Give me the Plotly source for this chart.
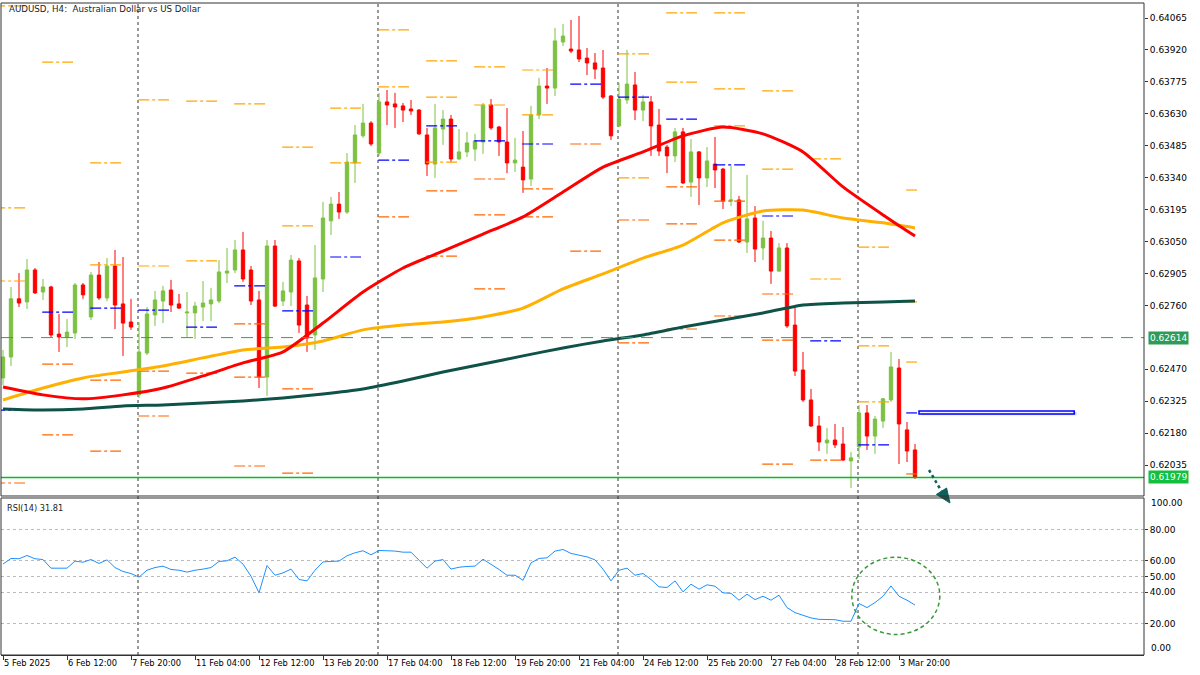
import plotly.graph_objects as go

TITLE = "AUDUSD, H4:  Australian Dollar vs US Dollar"
RSI_LABEL = "RSI(14) 31.81"

opens = [0.62431, 0.62526, 0.62790, 0.62776, 0.62921, 0.62821, 0.62844, 0.62630, 0.62617, 0.62635,
         0.62853, 0.62708, 0.62898, 0.62794, 0.62939, 0.62767, 0.62685, 0.62354, 0.62544, 0.62717,
         0.62780, 0.62830, 0.62767, 0.62726, 0.62726, 0.62753, 0.62767, 0.62780, 0.62907, 0.62921,
         0.63012, 0.62921, 0.62785, 0.62435, 0.63030, 0.62780, 0.62821, 0.62962, 0.62762, 0.62626,
         0.62880, 0.63144, 0.63220, 0.63184, 0.63407, 0.63530, 0.63588, 0.63452, 0.63684, 0.63675,
         0.63666, 0.63652, 0.63647, 0.63534, 0.63402, 0.63561, 0.63606, 0.63425, 0.63457, 0.63470,
         0.63502, 0.63670, 0.63570, 0.63502, 0.63407, 0.63388, 0.63334, 0.63625, 0.63756, 0.63747,
         0.63956, 0.63924, 0.63920, 0.63883, 0.63861, 0.63838, 0.63711, 0.63575, 0.63693, 0.63761,
         0.63647, 0.63684, 0.63579, 0.63479, 0.63439, 0.63548, 0.63320, 0.63457, 0.63339, 0.63402,
         0.63379, 0.63234, 0.63239, 0.63048, 0.63157, 0.63021, 0.63066, 0.62916, 0.63021, 0.62671,
         0.62467, 0.62331, 0.62213, 0.62136, 0.62149, 0.62131, 0.62054, 0.62118, 0.62272, 0.62167,
         0.62235, 0.62331, 0.62476, 0.62195, 0.62104]
highs = [0.62558, 0.62844, 0.62907, 0.62971, 0.62930, 0.62880, 0.62849, 0.62721, 0.62698, 0.62862,
         0.62862, 0.62912, 0.62957, 0.62975, 0.63012, 0.62980, 0.62790, 0.62685, 0.62753, 0.62826,
         0.62849, 0.62876, 0.62812, 0.62821, 0.62776, 0.62871, 0.62840, 0.62966, 0.63021, 0.63057,
         0.63094, 0.62939, 0.62826, 0.63057, 0.63057, 0.62867, 0.62989, 0.62975, 0.62803, 0.63034,
         0.63230, 0.63253, 0.63275, 0.63452, 0.63579, 0.63675, 0.63597, 0.63725, 0.63738, 0.63725,
         0.63679, 0.63693, 0.63652, 0.63566, 0.63675, 0.63647, 0.63625, 0.63561, 0.63548, 0.63539,
         0.63679, 0.63697, 0.63575, 0.63656, 0.63521, 0.63552, 0.63666, 0.63793, 0.63838, 0.64020,
         0.64038, 0.64056, 0.64074, 0.63929, 0.63906, 0.63920, 0.63715, 0.63770, 0.63920, 0.63820,
         0.63715, 0.63711, 0.63652, 0.63489, 0.63566, 0.63566, 0.63516, 0.63461, 0.63479, 0.63525,
         0.63384, 0.63393, 0.63257, 0.63352, 0.63211, 0.63144, 0.63098, 0.63043, 0.63043, 0.62753,
         0.62549, 0.62381, 0.62258, 0.62204, 0.62222, 0.62208, 0.62095, 0.62308, 0.62308, 0.62258,
         0.62340, 0.62549, 0.62517, 0.62231, 0.62131]
lows = [0.62399, 0.62485, 0.62753, 0.62744, 0.62812, 0.62785, 0.62617, 0.62549, 0.62571, 0.62608,
        0.62790, 0.62694, 0.62785, 0.62780, 0.62653, 0.62531, 0.62649, 0.62340, 0.62535, 0.62667,
        0.62680, 0.62730, 0.62744, 0.62617, 0.62608, 0.62689, 0.62689, 0.62771, 0.62862, 0.62907,
        0.62867, 0.62762, 0.62385, 0.62349, 0.62753, 0.62757, 0.62757, 0.62635, 0.62549, 0.62558,
        0.62821, 0.63080, 0.63153, 0.63175, 0.63316, 0.63521, 0.63484, 0.63439, 0.63579, 0.63566,
        0.63593, 0.63625, 0.63534, 0.63348, 0.63339, 0.63489, 0.63411, 0.63420, 0.63434, 0.63416,
        0.63448, 0.63557, 0.63439, 0.63361, 0.63366, 0.63271, 0.63302, 0.63606, 0.63675, 0.63711,
        0.63938, 0.63906, 0.63865, 0.63806, 0.63788, 0.63697, 0.63511, 0.63570, 0.63675, 0.63602,
        0.63597, 0.63439, 0.63439, 0.63361, 0.63411, 0.63311, 0.63253, 0.63216, 0.63298, 0.63293,
        0.63198, 0.63211, 0.63043, 0.62998, 0.62957, 0.62966, 0.62858, 0.62912, 0.62658, 0.62440,
        0.62322, 0.62208, 0.62099, 0.62086, 0.62113, 0.62054, 0.61931, 0.62063, 0.62104, 0.62086,
        0.62204, 0.62322, 0.62040, 0.62049, 0.61972]
closes = [0.62526, 0.62790, 0.62771, 0.62921, 0.62817, 0.62844, 0.62626, 0.62617, 0.62639, 0.62853,
          0.62808, 0.62898, 0.62794, 0.62939, 0.62762, 0.62680, 0.62662, 0.62549, 0.62721, 0.62785,
          0.62826, 0.62762, 0.62748, 0.62730, 0.62757, 0.62771, 0.62785, 0.62912, 0.62916, 0.63012,
          0.62880, 0.62780, 0.62435, 0.63030, 0.62757, 0.62826, 0.62966, 0.62671, 0.62612, 0.62885,
          0.63157, 0.63220, 0.63184, 0.63411, 0.63534, 0.63588, 0.63493, 0.63684, 0.63670, 0.63661,
          0.63647, 0.63643, 0.63539, 0.63402, 0.63566, 0.63606, 0.63425, 0.63457, 0.63498, 0.63507,
          0.63670, 0.63566, 0.63502, 0.63407, 0.63420, 0.63330, 0.63625, 0.63756, 0.63747, 0.63961,
          0.63983, 0.63915, 0.63879, 0.63861, 0.63833, 0.63706, 0.63530, 0.63697, 0.63765, 0.63647,
          0.63684, 0.63575, 0.63461, 0.63439, 0.63548, 0.63316, 0.63457, 0.63339, 0.63416, 0.63375,
          0.63234, 0.63239, 0.63048, 0.63153, 0.63016, 0.63066, 0.62916, 0.63021, 0.62667, 0.62462,
          0.62331, 0.62213, 0.62140, 0.62149, 0.62127, 0.62058, 0.62068, 0.62272, 0.62167, 0.62244,
          0.62336, 0.62481, 0.62222, 0.62099, 0.61979]

# moving averages read at every 5th bar
ma_bars = [0, 5, 10, 15, 20, 25, 30, 35, 40, 45, 50, 55, 60, 65, 70, 75, 80, 85, 90, 95, 100, 105, 110, 114]
ma_red = [0.62390, 0.62354, 0.62336, 0.62354, 0.62385, 0.62440, 0.62499, 0.62549, 0.62680, 0.62821,
          0.62930, 0.63007, 0.63084, 0.63162, 0.63275, 0.63388, 0.63457, 0.63530, 0.63570, 0.63539,
          0.63457, 0.63298, 0.63171, 0.63075]
ma_orange = [0.62331, 0.62385, 0.62431, 0.62458, 0.62485, 0.62522, 0.62558, 0.62571, 0.62599, 0.62649,
             0.62671, 0.62685, 0.62708, 0.62748, 0.62835, 0.62903, 0.62975, 0.63034, 0.63135, 0.63189,
             0.63193, 0.63157, 0.63135, 0.63112]
ma_green = [0.62290, 0.62285, 0.62290, 0.62304, 0.62308, 0.62317, 0.62326, 0.62340, 0.62358, 0.62381,
            0.62417, 0.62458, 0.62494, 0.62531, 0.62567, 0.62599, 0.62626, 0.62662, 0.62694, 0.62726,
            0.62762, 0.62771, 0.62776, 0.62780]

rsi = [57.9, 61.5, 61.3, 63.4, 61.3, 60.8, 55.3, 55.1, 55.3, 59.8,
       59.1, 60.8, 58.3, 60.6, 55.7, 53.2, 51.9, 49.6, 54.0, 55.7,
       56.6, 54.5, 54.0, 52.8, 54.0, 54.7, 55.7, 59.6, 60.0, 62.3,
       57.9, 50.2, 39.6, 57.0, 50.8, 52.3, 54.7, 48.1, 47.2, 54.0,
       59.3, 59.6, 59.8, 63.2, 65.1, 66.4, 63.8, 66.6, 66.6, 66.2,
       65.5, 65.5, 60.4, 55.3, 59.8, 60.8, 54.7, 55.9, 56.4, 56.6,
       61.0, 57.9, 54.5, 50.8, 50.8, 47.6, 58.7, 61.5, 61.9, 66.2,
       67.2, 64.7, 63.4, 62.5, 60.6, 54.7, 47.2, 54.0, 55.3, 50.8,
       51.9, 48.1, 43.4, 43.0, 47.2, 40.2, 45.1, 41.9, 44.7, 43.8,
       39.6, 39.3, 34.9, 38.7, 35.3, 37.4, 34.9, 38.1, 30.2, 27.0,
       25.3, 23.6, 22.7, 22.7, 22.5, 21.5, 21.5, 32.8, 30.2, 33.4,
       37.4, 44.0, 37.4, 34.9, 31.81]

x_tick_bars = [0, 8, 16, 24, 32, 40, 48, 56, 64, 72, 80, 88, 96, 104, 112]
x_tick_labels = ["5 Feb 2025", "6 Feb 12:00", "7 Feb 20:00", "11 Feb 04:00", "12 Feb 12:00",
                 "13 Feb 20:00", "17 Feb 04:00", "18 Feb 12:00", "19 Feb 20:00", "21 Feb 04:00",
                 "24 Feb 12:00", "25 Feb 20:00", "27 Feb 04:00", "28 Feb 12:00", "3 Mar 20:00"]
price_ticks = [0.64065, 0.63920, 0.63775, 0.63630, 0.63485, 0.63340, 0.63195, 0.63050,
               0.62905, 0.62760, 0.62470, 0.62325, 0.62180, 0.62035]
rsi_ticks = [80, 60, 50, 40, 20]
week_starts = [17, 47, 77, 107]

# daily pivot levels: day start bar, price, kind (U=resistance, P=pivot, L=support)
piv_day = [-1, -1, -1, -1, -1,
           5, 5, 5, 5,
           11, 11, 11, 11, 11,
           17, 17, 17, 17, 17,
           23, 23, 23, 23,
           29, 29, 29, 29, 29,
           35, 35, 35, 35, 35,
           41, 41, 41,
           47, 47, 47, 47,
           53, 53, 53, 53, 53, 53,
           59, 59, 59, 59, 59, 59,
           65, 65, 65, 65, 65,
           71, 71, 71,
           77, 77, 77, 77, 77,
           83, 83, 83, 83, 83, 83,
           89, 89, 89, 89, 89, 89, 89,
           95, 95, 95, 95, 95, 95,
           101, 101, 101, 101,
           107, 107, 107, 107,
           113, 113, 113, 113, 113]
piv_price = [0.64120, 0.63203, 0.62871, 0.62285, 0.61954,
             0.63865, 0.62730, 0.62494, 0.62172,
             0.63407, 0.62944, 0.62748, 0.62421, 0.62099,
             0.63693, 0.62939, 0.62739, 0.62462, 0.62258,
             0.63688, 0.62962, 0.62662, 0.62453,
             0.63675, 0.62849, 0.62676, 0.62435, 0.62031,
             0.63479, 0.63121, 0.62735, 0.62381, 0.61999,
             0.63656, 0.63407, 0.62980,
             0.64011, 0.63752, 0.63420, 0.63162,
             0.63870, 0.63706, 0.63575, 0.63411, 0.63280, 0.62984,
             0.63843, 0.63670, 0.63507, 0.63334, 0.63171, 0.62835,
             0.63829, 0.63625, 0.63493, 0.63289, 0.63162,
             0.63765, 0.63493, 0.63007,
             0.63902, 0.63706, 0.63339, 0.63148, 0.62590,
             0.64088, 0.63774, 0.63606, 0.63298, 0.63130, 0.62653,
             0.64088, 0.63743, 0.63575, 0.63398, 0.63234, 0.63057, 0.62712,
             0.63734, 0.63379, 0.63166, 0.62812, 0.62603, 0.62040,
             0.63425, 0.62880, 0.62599, 0.62058,
             0.63025, 0.62576, 0.62322, 0.62127,
             0.63284, 0.62776, 0.62503, 0.62272, 0.61995]
piv_kind = ["U", "U", "U", "P", "L",
            "U", "P", "L", "L",
            "U", "U", "P", "L", "L",
            "U", "U", "P", "L", "L",
            "U", "U", "P", "L",
            "U", "P", "L", "L", "L",
            "U", "U", "P", "L", "L",
            "U", "U", "P",
            "U", "U", "P", "L",
            "U", "U", "P", "U", "L", "L",
            "U", "U", "P", "L", "L", "L",
            "U", "U", "P", "L", "L",
            "P", "L", "L",
            "U", "P", "U", "L", "L",
            "U", "U", "P", "L", "L", "L",
            "U", "U", "U", "P", "L", "L", "L",
            "U", "U", "P", "L", "L", "L",
            "U", "U", "P", "L",
            "U", "U", "U", "P",
            "U", "U", "U", "P", "L"]

level_dashed = 0.62614
level_last = 0.61979
box_low, box_high, box_start, box_end = 0.62267, 0.62281, 114.5, 133.9

# ---------------------------------------------------------------- layout geometry
MAIN_RANGE = [0.618949, 0.641331]
X_RANGE = [-0.25, 142.625]
MAIN_DOM = [0.24387, 1.0]
RSI_DOM = [0.0, 0.24080]
GREEN = "#7DC143"
RED = "#FF0000"
FONT = "DejaVu Sans"

bars = list(range(len(opens)))
fig = go.Figure()

piv_colors = {"U": "#FFA500", "L": "#FF6600", "P": "#0000FF"}
for kind, col in piv_colors.items():
    xs, ys = [], []
    for d, p, k in zip(piv_day, piv_price, piv_kind):
        if k != kind:
            continue
        x0 = d - 0.1
        x1 = min(d + 3.75, len(opens) - 0.75)
        xs += [x0, x1, None]
        ys += [p, p, None]
    fig.add_trace(go.Scatter(x=xs, y=ys, mode="lines", xaxis="x", yaxis="y",
                             line=dict(color=col, width=1.2, dash="11px,3px,3px,3px"),
                             hoverinfo="skip", showlegend=False))

for vals, col in [(ma_green, "#0E5248"), (ma_orange, "#FFB000"), (ma_red, "#FF0000")]:
    fig.add_trace(go.Scatter(x=ma_bars, y=vals, mode="lines", xaxis="x", yaxis="y",
                             line=dict(color=col, width=3, shape="spline", smoothing=0.6),
                             hoverinfo="skip", showlegend=False))

fig.add_trace(go.Candlestick(x=bars, open=opens, high=highs, low=lows, close=closes,
                             xaxis="x", yaxis="y", whiskerwidth=0,
                             increasing=dict(line=dict(color=GREEN, width=1), fillcolor=GREEN),
                             decreasing=dict(line=dict(color=RED, width=1), fillcolor=RED),
                             hoverinfo="skip", showlegend=False))

fig.add_trace(go.Scatter(x=bars, y=rsi, mode="lines", xaxis="x", yaxis="y2",
                         line=dict(color="#1E90FF", width=1), hoverinfo="skip", showlegend=False))

shapes = []
for w in week_starts:
    shapes.append(dict(type="line", xref="x", yref="paper", x0=w - 0.125, x1=w - 0.125, y0=0, y1=1,
                       line=dict(color="#333333", width=1, dash="3px,3px"), layer="below"))
shapes.append(dict(type="line", xref="paper", yref="y", x0=0, x1=1, y0=level_dashed, y1=level_dashed,
                   line=dict(color="#3C9A55", width=1, dash="12px,8px")))
shapes.append(dict(type="line", xref="paper", yref="y", x0=0, x1=1, y0=level_last, y1=level_last,
                   line=dict(color="#00C020", width=1.5)))
# drawn rectangle with shadow
shapes.append(dict(type="rect", xref="x", yref="y", x0=box_start + 0.3, x1=box_end + 0.3,
                   y0=box_low - 0.00005, y1=box_high - 0.00005, line=dict(width=0),
                   fillcolor="rgba(0,0,0,0.18)"))
shapes.append(dict(type="rect", xref="x", yref="y", x0=box_start, x1=box_end, y0=box_low, y1=box_high,
                   line=dict(color="#0000FF", width=1.5), fillcolor="#F2F5FF"))
# ellipse in RSI panel
shapes.append(dict(type="circle", xref="x", yref="y2", x0=106.1, x1=117.1, y0=13.1, y1=62.3,
                   line=dict(color="#3A9A3A", width=1.5, dash="4px,3px")))
# arrow (paper coords)
shapes.append(dict(type="line", xref="paper", yref="paper", x0=0.81190, y0=0.28374, x1=0.82283, y1=0.25123,
                   line=dict(color="#0F5F5A", width=2.5, dash="dot")))
shapes.append(dict(type="path", xref="paper", yref="paper",
                   path="M 0.83027 0.23313 L 0.81837 0.24632 L 0.82730 0.25613 Z",
                   fillcolor="#0F5F5A", line=dict(color="#0F5F5A", width=1)))
# panel frames
shapes.append(dict(type="rect", xref="paper", yref="paper", x0=0, x1=1, y0=MAIN_DOM[0], y1=1,
                   line=dict(color="#333333", width=1)))
shapes.append(dict(type="rect", xref="paper", yref="paper", x0=0, x1=1, y0=0, y1=RSI_DOM[1],
                   line=dict(color="#333333", width=1)))

annotations = [
    dict(text=TITLE, xref="paper", yref="paper", x=0.00525, y=0.9908, xanchor="left", yanchor="middle",
         showarrow=False, font=dict(size=8.7, color="#222")),
    dict(text=RSI_LABEL, xref="paper", yref="paper", x=0.0035, y=0.2255, xanchor="left", yanchor="middle",
         showarrow=False, font=dict(size=8.2, color="#222")),
    dict(text="0.62614", xref="paper", yref="y", x=1, y=level_dashed, xanchor="left", yanchor="middle",
         xshift=4, showarrow=False, bgcolor="#2E9B57", borderpad=1, font=dict(size=9, color="white")),
    dict(text="0.61979", xref="paper", yref="y", x=1, y=level_last, xanchor="left", yanchor="middle",
         xshift=4, showarrow=False, bgcolor="#13BF3F", borderpad=1, font=dict(size=9, color="white")),
    dict(text="100.00", xref="paper", yref="y2", x=1, y=96.8, xanchor="left", yanchor="middle",
         xshift=5, showarrow=False, font=dict(size=9, color="#000")),
    dict(text="0.00", xref="paper", yref="y2", x=1, y=4.5, xanchor="left", yanchor="middle",
         xshift=5, showarrow=False, font=dict(size=9, color="#000")),
]

fig.update_layout(
    width=1200, height=675, margin=dict(l=1, r=56, t=3, b=20),
    paper_bgcolor="white", plot_bgcolor="white",
    font=dict(family=FONT, size=9, color="#000"),
    showlegend=False, boxgap=0.4,
    xaxis=dict(domain=[0, 1], range=X_RANGE, anchor="y2", tickmode="array",
               tickvals=x_tick_bars, ticktext=x_tick_labels, ticks="outside", ticklen=4,
               tickangle=0, tickfont=dict(size=8.3),
               tickcolor="#333", ticklabelposition="outside right", showline=True, linecolor="#333",
               showgrid=False, zeroline=False, rangeslider=dict(visible=False), fixedrange=True),
    yaxis=dict(domain=MAIN_DOM, range=MAIN_RANGE, side="right", anchor="x", tickmode="array",
               tickvals=price_ticks, ticktext=[f"{v:.5f}" for v in price_ticks], ticks="outside",
               ticklen=3, tickcolor="#333", tickfont=dict(size=9),
               showgrid=False, zeroline=False, fixedrange=True),
    yaxis2=dict(domain=RSI_DOM, range=[0, 100], side="right", anchor="x", tickmode="array",
                tickvals=rsi_ticks, ticktext=[f"{v:.2f}" for v in rsi_ticks], ticks="outside",
                ticklen=3, tickcolor="#333", tickfont=dict(size=9),
                showgrid=True, gridcolor="#BBBBBB", griddash="dot",
                zeroline=False, fixedrange=True),
    shapes=shapes, annotations=annotations,
)

fig.write_html("out.html", config={"displayModeBar": False},
               post_script="document.body.style.margin='0';document.body.style.overflow='hidden';")
